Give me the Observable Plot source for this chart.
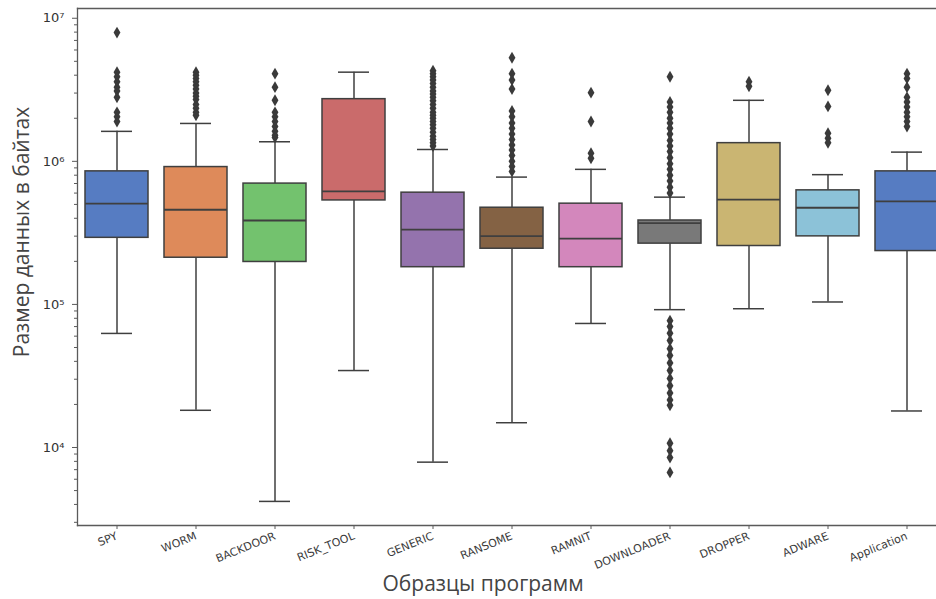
<!DOCTYPE html>
<html><head><meta charset="utf-8">
<script src="https://cdn.jsdelivr.net/npm/d3@7"></script>
<script src="https://cdn.jsdelivr.net/npm/@observablehq/plot@0.6"></script>
<style>body{margin:0;background:#fff} #chart svg{display:block}</style>
</head><body><div id="chart"></div><script>
const categories = ["SPY","WORM","BACKDOOR","RISK_TOOL","GENERIC","RANSOME","RAMNIT","DOWNLOADER","DROPPER","ADWARE","Application"];
const q1 =          [292e3, 212e3, 198e3, 533e3, 182e3, 245e3, 182e3, 266e3, 256e3, 299e3, 236e3];
const median =      [506e3, 459e3, 386e3, 617e3, 333e3, 300e3, 288e3, 370e3, 540e3, 474e3, 525e3];
const q3 =          [851e3, 912e3, 699e3, 2.72e6, 604e3, 474e3, 506e3, 386e3, 1.34e6, 627e3, 851e3];
const whiskerLow =  [62.7e3, 18.2e3, 4.2e3, 34.5e3, 7.9e3, 14.9e3, 73.6e3, 91.9e3, 93.3e3, 104e3, 18e3];
const whiskerHigh = [1.62e6, 1.84e6, 1.37e6, 4.2e6, 1.21e6, 776e3, 879e3, 562e3, 2.67e6, 807e3, 1.16e6];

const outSPY = [7.94e6, 4.2e6, 3.9e6, 3.6e6, 3.3e6, 3.1e6, 2.8e6, 2.2e6, 2.05e6, 1.9e6];
const outWORM = [4.2e6, 4.0e6, 3.8e6, 3.6e6, 3.4e6, 3.2e6, 3.0e6, 2.85e6, 2.7e6, 2.5e6, 2.35e6, 2.2e6, 2.1e6];
const outBACKDOOR = [4.1e6, 3.3e6, 2.67e6, 2.2e6, 2.05e6, 1.9e6, 1.75e6, 1.62e6, 1.52e6, 1.47e6];
const outRISK_TOOL = [];
const outGENERIC = [4.3e6, 4.1e6, 3.9e6, 3.7e6, 3.5e6, 3.3e6, 3.1e6, 2.95e6, 2.8e6, 2.65e6, 2.5e6, 2.35e6, 2.2e6, 2.1e6, 2.0e6, 1.9e6, 1.8e6, 1.7e6, 1.6e6, 1.5e6, 1.42e6, 1.35e6, 1.28e6];
const outRANSOME = [5.3e6, 4.1e6, 3.7e6, 3.2e6, 2.25e6, 2.05e6, 1.85e6, 1.7e6, 1.55e6, 1.42e6, 1.3e6, 1.2e6, 1.1e6, 1.0e6, 0.92e6, 0.85e6];
const outRAMNIT = [3.02e6, 1.9e6, 1.14e6, 1.05e6];
const outDOWNLOADER = [3.9e6, 2.6e6, 2.4e6, 2.2e6, 2.0e6, 1.85e6, 1.7e6, 1.55e6, 1.4e6, 1.28e6, 1.17e6, 1.06e6, 0.96e6, 0.88e6, 0.8e6, 0.73e6, 0.66e6, 0.6e6,
  77e3, 70e3, 63e3, 56e3, 49e3, 44e3, 39e3, 34.5e3, 30.4e3, 27e3, 24e3, 21.5e3, 19.7e3, 10.7e3, 9.5e3, 8.5e3, 6.7e3];
const outDROPPER = [3.6e6, 3.35e6];
const outADWARE = [3.14e6, 2.42e6, 1.57e6, 1.45e6, 1.35e6];
const outApplication = [4.1e6, 3.8e6, 3.3e6, 2.8e6, 2.6e6, 2.4e6, 2.2e6, 2.05e6, 1.9e6, 1.75e6];
const outliers = [outSPY, outWORM, outBACKDOOR, outRISK_TOOL, outGENERIC, outRANSOME, outRAMNIT, outDOWNLOADER, outDROPPER, outADWARE, outApplication];

const yTicks = [1e4, 1e5, 1e6, 1e7];
const mutedPalette = ["#4878d0","#ee854a","#6acc64","#d65f5f","#956cb4","#8c613c","#dc7ec0","#797979","#d5bb67","#82c6e2","#4878d0"];
const palette = mutedPalette.map(c => { const h = d3.hsl(c); h.s *= 0.8; return h.formatHex(); });

const boxes = categories.map((c, i) => ({category: c, q1: q1[i], median: median[i], q3: q3[i], lo: whiskerLow[i], hi: whiskerHigh[i]}));
const fliers = categories.flatMap((c, i) => outliers[i].map(v => ({category: c, value: v})));

const sup = "⁰¹²³⁴⁵⁶⁷⁸⁹";
const fmt = d => "10" + String(Math.round(Math.log10(d))).split("").map(ch => sup[+ch]).join("");
const minorTicks = d3.scaleLog().domain([2850, 1.17e7]).ticks().filter(t => !yTicks.includes(t));

const lineColor = "#3f3f3f";
const plot = Plot.plot({
  width: 936, height: 599,
  marginLeft: 77, marginRight: 0, marginTop: 8, marginBottom: 74,
  style: {fontFamily: "DejaVu Sans, sans-serif", background: "#fff", color: "#333"},
  x: {type: "band", domain: categories, range: [77.5, 946.5], paddingInner: 0.2, paddingOuter: 0.1, label: null},
  y: {type: "log", domain: [2850, 1.17e7], label: null},
  color: {domain: categories, range: palette},
  marks: [
    Plot.frame({anchor: "top", stroke: "#5a5a5a", strokeWidth: 1.3}),
    Plot.frame({anchor: "left", stroke: "#5a5a5a", strokeWidth: 1.3}),
    Plot.frame({anchor: "bottom", stroke: "#5a5a5a", strokeWidth: 1.3}),
    Plot.ruleX(boxes, {x: "category", y1: "lo", y2: "q1", stroke: lineColor, strokeWidth: 1.5}),
    Plot.ruleX(boxes, {x: "category", y1: "q3", y2: "hi", stroke: lineColor, strokeWidth: 1.5}),
    Plot.tickY(boxes, {x: "category", y: "lo", stroke: lineColor, strokeWidth: 1.5, insetLeft: 16, insetRight: 16}),
    Plot.tickY(boxes, {x: "category", y: "hi", stroke: lineColor, strokeWidth: 1.5, insetLeft: 16, insetRight: 16}),
    Plot.barY(boxes, {x: "category", y1: "q1", y2: "q3", fill: "category", stroke: lineColor, strokeWidth: 1.5}),
    Plot.tickY(boxes, {x: "category", y: "median", stroke: lineColor, strokeWidth: 1.8}),
    Plot.dot(fliers, {x: "category", y: "value", symbol: "diamond", r: 3.6, fill: "#3a3a3a", stroke: null}),
    Plot.axisY(yTicks, {tickFormat: fmt, tickSize: 5, tickPadding: 8, fontSize: 13, stroke: "#5a5a5a"}),
    Plot.axisY(minorTicks, {tickFormat: () => "", tickSize: 3, stroke: "#5a5a5a"}),
    Plot.axisX({tickRotate: -22, fontSize: 11, tickSize: 4, tickPadding: 6, label: null, stroke: "#5a5a5a", fill: "#3a3a3a"}),
    Plot.text(["Размер данных в байтах"], {frameAnchor: "left", textAnchor: "middle", lineAnchor: "middle", dx: -55, dy: -35, rotate: -90, fontSize: 21, fontFamily: "Open Sans", fill: "#444"}),
    Plot.text(["Образцы программ"], {frameAnchor: "bottom", textAnchor: "middle", lineAnchor: "middle", dx: -24, dy: 59, fontSize: 21, fontFamily: "Open Sans", fill: "#444"})
  ]
});
document.getElementById("chart").appendChild(plot);
</script></body></html>
